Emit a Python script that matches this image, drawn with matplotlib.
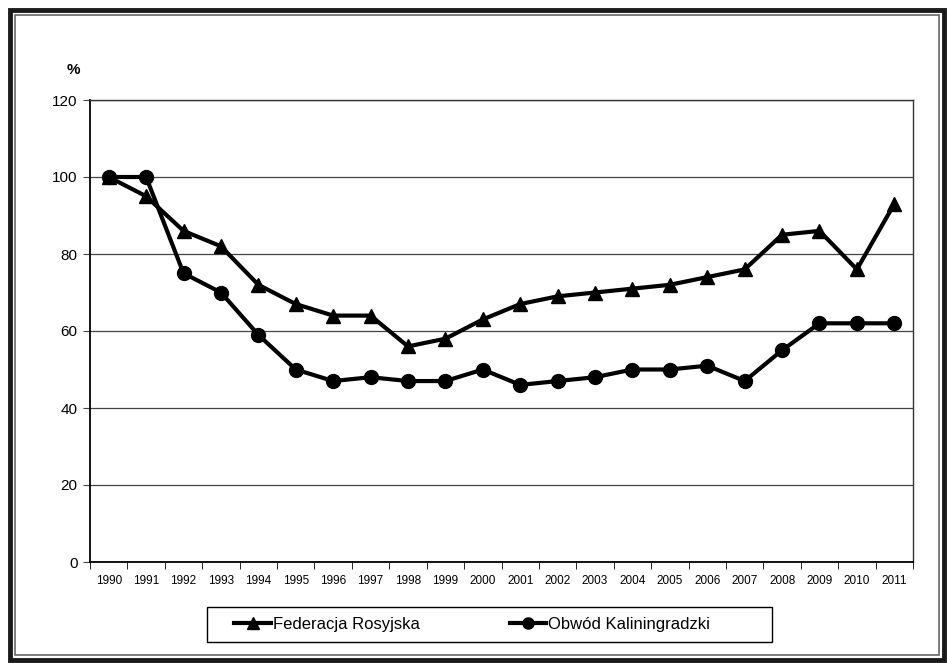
import matplotlib.pyplot as plt
from matplotlib.patches import Rectangle
from matplotlib.lines import Line2D

plt.rcParams["font.family"] = ["Liberation Sans", "DejaVu Sans"]

years = [str(y) for y in range(1990, 2012)]
federacja = [100, 95, 86, 82, 72, 67, 64, 64, 56, 58, 63, 67, 69, 70, 71, 72, 74, 76, 85, 86, 76, 93]
kaliningrad = [100, 100, 75, 70, 59, 50, 47, 48, 47, 47, 50, 46, 47, 48, 50, 50, 51, 47, 55, 62, 62, 62]
yticks = [0, 20, 40, 60, 80, 100, 120]

W, H = 948, 663
fig = plt.figure(figsize=(W / 100, H / 100), dpi=100)
ax = fig.add_axes([90 / W, 1 - 562 / H, 823 / W, 462 / H])

x = list(range(len(years)))
ax.plot(x, federacja, color='black', lw=3, marker='^', ms=10, zorder=3)
ax.plot(x, kaliningrad, color='black', lw=3, marker='o', ms=10, zorder=3)

ax.set_xlim(-0.5, len(years) - 0.5)
ax.set_ylim(0, 120)
ax.set_yticks(yticks)
ax.set_yticklabels([str(v) for v in yticks], fontsize=11)
ax.yaxis.grid(True, color='#444444', lw=0.9)
ax.set_axisbelow(True)

ax.set_xticks(x)
ax.set_xticklabels(years, fontsize=8.5, fontstretch='condensed')
ax.set_xticks([i - 0.5 for i in range(len(years) + 1)], minor=True)
ax.tick_params(axis='x', which='major', length=0, pad=9)
ax.tick_params(axis='x', which='minor', length=5, direction='out', color='black')
ax.tick_params(axis='y', length=5, direction='out', pad=4, color='#444444')

for s in ['left', 'bottom']:
    ax.spines[s].set_color('black')
    ax.spines[s].set_linewidth(1.3)
for s in ['top', 'right']:
    ax.spines[s].set_color('#333333')
    ax.spines[s].set_linewidth(1.0)

fig.text(80 / W, 1 - 70 / H, '%', fontsize=11, ha='right', va='center', fontweight='bold')

# legend box
lg = Rectangle((207 / W, 1 - 642 / H), 565 / W, 35 / H, transform=fig.transFigure,
               fill=False, edgecolor='black', lw=1.0)
fig.add_artist(lg)
handles = [Line2D([], [], color='black', lw=3, marker='^', ms=8),
           Line2D([], [], color='black', lw=3, marker='o', ms=8)]
fig.legend(handles, ['Federacja Rosyjska', 'Obwód Kaliningradzki'], loc='center',
           bbox_to_anchor=(472 / W, 1 - 624.5 / H), ncol=2, frameon=False,
           fontsize=12, handlelength=2.2, handletextpad=0.1, columnspacing=5.4)

# outer frame
fig.add_artist(Rectangle((10 / W, 3 / H), 934 / W, 650 / H, transform=fig.transFigure,
                         fill=False, edgecolor='#1a1a1a', lw=3.5))
fig.add_artist(Rectangle((15 / W, 8 / H), 924 / W, 640 / H, transform=fig.transFigure,
                         fill=False, edgecolor='#666666', lw=1.2))

fig.savefig('out.png', dpi=100, facecolor='white')
